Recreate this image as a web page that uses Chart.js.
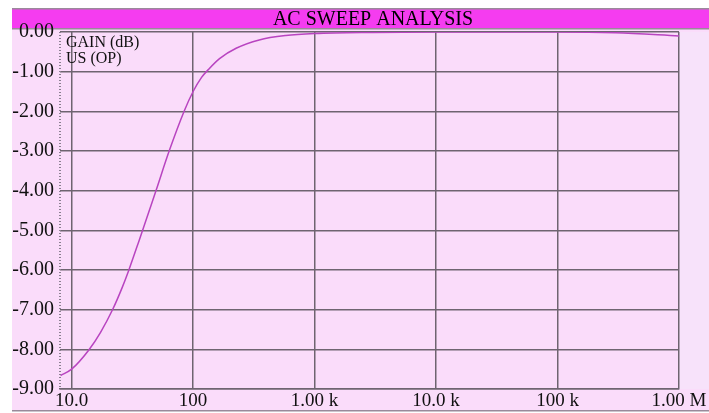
<!DOCTYPE html>
<html>
<head>
<meta charset="utf-8">
<script src="https://cdn.jsdelivr.net/npm/chart.js@4/dist/chart.umd.min.js"></script>
<style>
    body { margin: 0; background: #fff; }
    #wrap { width: 709px; height: 413px; }
</style>
</head>
<body>
<div id="wrap"><canvas id="ac_sweep" width="709" height="413"></canvas></div>
<script>
// frequency (Hz) and gain (dB)
var freq = [8.1, 10, 13.9, 17.3, 21.8, 26.0, 29.5, 35.9, 43.8, 49.6, 63.7, 84.5, 100, 117, 135, 165, 226, 350, 578, 1000, 3000, 10000, 100000, 300000, 1000000]
var gain = [-8.66, -8.50, -8.01, -7.57, -6.99, -6.45, -6.01, -5.26, -4.48, -3.99, -2.99, -1.99, -1.50, -1.15, -0.93, -0.67, -0.41, -0.20, -0.09, -0.04, -0.01, 0, 0, -0.02, -0.10]

var x_ticks = [10, 100, 1000, 10000, 100000, 1000000]
var x_labels = ['10.0', '100', '1.00 k', '10.0 k', '100 k', '1.00 M']
var y_ticks = [0, -1, -2, -3, -4, -5, -6, -7, -8, -9]

var title_text = 'AC SWEEP ANALYSIS'
var trace_labels = ['GAIN (dB)', 'US (OP)']

var serif = '"Liberation Serif", "Times New Roman", serif'

var backdrop = {
    id: 'backdrop',
    beforeDraw: function (chart) {
        var ctx = chart.ctx
        var area = chart.chartArea
        ctx.save()
        ctx.fillStyle = '#ffffff'
        ctx.fillRect(0, 0, chart.width, chart.height)
        ctx.fillStyle = '#fadcfa'
        ctx.fillRect(12, 28, chart.width - 12, 383)
        ctx.fillStyle = '#f7e2fa'
        ctx.fillRect(area.right, area.top, chart.width - area.right, area.bottom - area.top)
        // title bar
        ctx.fillStyle = '#f53cf0'
        ctx.fillRect(12, 9, chart.width - 12, 19)
        ctx.fillStyle = '#9a8a9a'
        ctx.fillRect(12, 8, chart.width - 12, 1.5)
        ctx.fillRect(12, 28, chart.width - 12, 1.5)
        ctx.fillRect(12, 410, chart.width - 12, 1.5)
        ctx.fillStyle = '#000'
        ctx.font = '20px ' + serif
        ctx.textAlign = 'center'
        ctx.textBaseline = 'middle'
        ctx.fillText(title_text, 373, 19.5)
        ctx.restore()
    },
    afterDraw: function (chart) {
        var ctx = chart.ctx
        var area = chart.chartArea
        ctx.save()
        // dotted left axis
        ctx.strokeStyle = '#8a8090'
        ctx.lineWidth = 2
        ctx.setLineDash([1, 2])
        ctx.beginPath()
        ctx.moveTo(area.left, area.top)
        ctx.lineTo(area.left, area.bottom)
        ctx.stroke()
        ctx.setLineDash([])
        ctx.fillStyle = '#111'
        ctx.font = '16px ' + serif
        ctx.textAlign = 'left'
        ctx.textBaseline = 'middle'
        trace_labels.forEach(function (t, i) {
            ctx.fillText(t, area.left + 6, area.top + 11 + i * 16)
        })
        ctx.restore()
    }
}

var ctx_sweep = document.getElementById('ac_sweep').getContext('2d')
var sweep_chart = new Chart(ctx_sweep, {
    type: 'line',
    data: {
        datasets: [{
            label: trace_labels[0],
            data: freq.map(function (f, i) { return { x: f, y: gain[i] } }),
            borderColor: '#b844c0',
            borderWidth: 1.5,
            pointRadius: 0,
            cubicInterpolationMode: 'monotone',
            fill: false
        }]
    },
    options: {
        responsive: false,
        animation: false,
        layout: { padding: { top: 32, right: 30, left: 0, bottom: 0 } },
        plugins: {
            legend: { display: false },
            title: { display: false },
            tooltip: { enabled: false }
        },
        scales: {
            x: {
                type: 'logarithmic',
                min: 8.02,
                max: 1000000,
                afterBuildTicks: function (scale) {
                    scale.ticks = x_ticks.map(function (v) { return { value: v } })
                },
                afterFit: function (scale) { scale.height = 24 },
                ticks: {
                    color: '#111',
                    font: { family: serif, size: 19 },
                    padding: 1,
                    maxRotation: 0,
                    autoSkip: false,
                    callback: function (v) {
                        var i = x_ticks.indexOf(v)
                        return i >= 0 ? x_labels[i] : ''
                    }
                },
                grid: { color: '#6e6470', lineWidth: 1.5, drawTicks: false },
                border: { color: '#6e6470', width: 1.5 }
            },
            y: {
                min: -9,
                max: 0,
                afterBuildTicks: function (scale) {
                    scale.ticks = y_ticks.map(function (v) { return { value: v } })
                },
                afterFit: function (scale) { scale.width = 60 },
                ticks: {
                    color: '#111',
                    font: { family: serif, size: 20 },
                    padding: 6,
                    callback: function (v) { return Number(v).toFixed(2) }
                },
                grid: { color: '#6e6470', lineWidth: 1.5, drawTicks: false },
                border: { display: false }
            }
        }
    },
    plugins: [backdrop]
})
</script>
</body>
</html>
